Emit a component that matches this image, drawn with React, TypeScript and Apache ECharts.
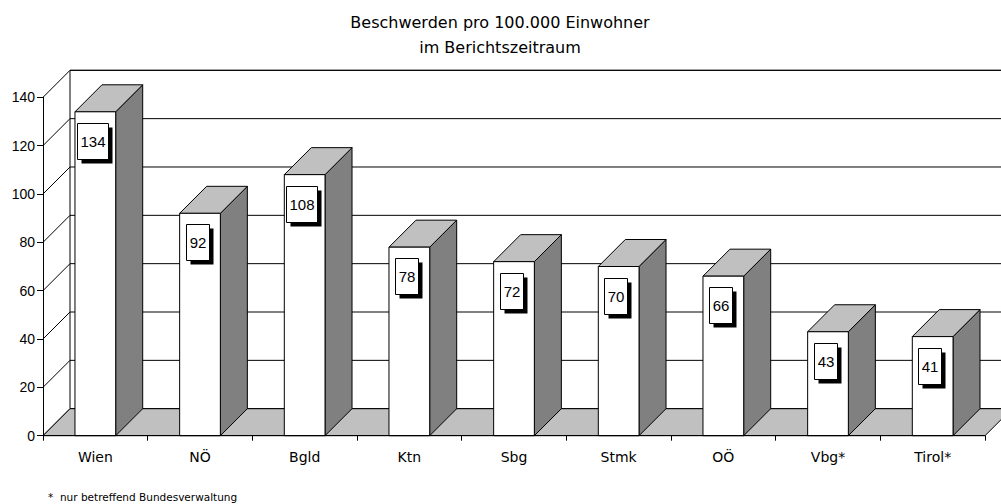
import React, { useEffect, useRef } from "react";
import * as echarts from "echarts";

const categories = ["Wien", "NÖ", "Bgld", "Ktn", "Sbg", "Stmk", "OÖ", "Vbg*", "Tirol*"];
const values = [134, 92, 108, 78, 72, 70, 66, 43, 41];
const yTicks = [0, 20, 40, 60, 80, 100, 120, 140];
const titleLines = ["Beschwerden pro 100.000 Einwohner", "im Berichtszeitraum"];
const footnote = "*  nur betreffend Bundesverwaltung";

const DEPTH = 27;
const WORD_FONT = "'DejaVu Sans', sans-serif";
const NUM_FONT = "'Liberation Sans', Arial, sans-serif";
const LABEL_SIZE = 15;

export default function App() {
  const ref = useRef<HTMLDivElement>(null);

  useEffect(() => {
    if (!ref.current) return;
    const chart = echarts.init(ref.current, undefined, { renderer: "svg" });
    const yMax = yTicks[yTicks.length - 1];

    const frameRender = (params: any, api: any) => {
      const c0 = api.coord([0, 0]);
      const bw = api.size([1, 0])[0];
      const x0 = c0[0] - bw / 2;
      const x1 = x0 + bw * categories.length;
      const yOf = (t: number) => api.coord([0, t])[1];
      const y0 = yOf(0);
      const yT = yOf(yMax);
      const line = { stroke: "#000", lineWidth: 1, fill: null };
      const children: any[] = [];
      children.push({
        type: "rect",
        shape: { x: x0 + DEPTH, y: yT - DEPTH, width: x1 - x0, height: y0 - yT },
        style: { fill: "#fff", stroke: "#000", lineWidth: 1 },
      });
      yTicks.forEach((t) => {
        const y = yOf(t);
        children.push({
          type: "line",
          shape: { x1: x0 + DEPTH, y1: y - DEPTH, x2: x1 + DEPTH, y2: y - DEPTH },
          style: line,
        });
        children.push({
          type: "line",
          shape: { x1: x0, y1: y, x2: x0 + DEPTH, y2: y - DEPTH },
          style: line,
        });
      });
      children.push({
        type: "polygon",
        shape: {
          points: [
            [x0, y0],
            [x1, y0],
            [x1 + DEPTH, y0 - DEPTH],
            [x0 + DEPTH, y0 - DEPTH],
          ],
        },
        style: { fill: "#c0c0c0", stroke: "#000", lineWidth: 1 },
      });
      return { type: "group", children };
    };

    const barRender = (params: any, api: any) => {
      const xi = api.value(0);
      const v = api.value(1);
      const top = api.coord([xi, v]);
      const base = api.coord([xi, 0]);
      const bw = api.size([1, 0])[0];
      const w = bw * 0.389;
      const xl = top[0] - w / 2;
      const xr = top[0] + w / 2;
      const yt = top[1];
      const yb = base[1];
      const edge = { stroke: "#000", lineWidth: 1 };
      const txt = String(v);
      const boxW = Math.round(txt.length * 0.556 * LABEL_SIZE + 6);
      const boxH = 36;
      const lx = top[0] - 3;
      const ly = yt + 29;
      const bx = Math.round(lx - boxW / 2) + 0.5;
      const by = Math.round(ly - boxH / 2) + 0.5;
      return {
        type: "group",
        children: [
          {
            type: "polygon",
            shape: { points: [[xr, yt], [xr + DEPTH, yt - DEPTH], [xr + DEPTH, yb - DEPTH], [xr, yb]] },
            style: { fill: "#808080", ...edge },
          },
          {
            type: "polygon",
            shape: { points: [[xl, yt], [xl + DEPTH, yt - DEPTH], [xr + DEPTH, yt - DEPTH], [xr, yt]] },
            style: { fill: "#c0c0c0", ...edge },
          },
          {
            type: "rect",
            shape: { x: xl, y: yt, width: w, height: yb - yt },
            style: { fill: "#fff", ...edge },
          },
          {
            type: "rect",
            shape: { x: bx + 4, y: by + 4, width: boxW, height: boxH },
            style: { fill: "#000", stroke: null },
          },
          {
            type: "rect",
            shape: { x: bx, y: by, width: boxW, height: boxH },
            style: { fill: "#fff", stroke: "#000", lineWidth: 1 },
          },
          {
            type: "text",
            x: bx + boxW / 2,
            y: by + boxH / 2,
            style: {
              text: txt,
              font: `${LABEL_SIZE}px ${NUM_FONT}`,
              fill: "#000",
              align: "center",
              verticalAlign: "middle",
            },
          },
        ],
      };
    };

    chart.setOption({
      animation: false,
      backgroundColor: "#fff",
      grid: { left: 43, right: 16, top: 97.3, bottom: 68.3, containLabel: false },
      xAxis: {
        type: "category",
        data: categories,
        boundaryGap: true,
        axisLine: { show: true, lineStyle: { color: "#000", width: 1 } },
        axisTick: { show: true, length: 5, lineStyle: { color: "#000" } },
        axisLabel: { margin: 14, fontSize: 14, color: "#000", fontFamily: WORD_FONT },
        splitLine: { show: false },
        z: 5,
      },
      yAxis: {
        type: "value",
        min: 0,
        max: yMax,
        interval: 20,
        axisLine: { show: true, lineStyle: { color: "#000", width: 1 } },
        axisTick: { show: true, length: 6, lineStyle: { color: "#000" } },
        axisLabel: { margin: 8, fontSize: 14, color: "#000", fontFamily: NUM_FONT },
        splitLine: { show: false },
        z: 5,
      },
      graphic: [
        {
          type: "text",
          x: 500,
          y: 22,
          style: { text: titleLines[0], font: `16px ${WORD_FONT}`, fill: "#000", align: "center", verticalAlign: "middle" },
        },
        {
          type: "text",
          x: 500,
          y: 47,
          style: { text: titleLines[1], font: `16px ${WORD_FONT}`, fill: "#000", align: "center", verticalAlign: "middle" },
        },
        {
          type: "text",
          x: 48,
          y: 497,
          style: { text: footnote, font: `10.5px ${WORD_FONT}`, fill: "#000", align: "left", verticalAlign: "middle" },
        },
      ],
      series: [
        {
          type: "custom",
          name: "frame",
          z: 1,
          silent: true,
          data: [[0, 0]],
          encode: { x: 0, y: 1 },
          renderItem: frameRender,
        },
        {
          type: "custom",
          name: "Beschwerden",
          z: 2,
          data: values.map((v, i) => [i, v]),
          encode: { x: 0, y: 1 },
          renderItem: barRender,
        },
      ],
    });

    return () => chart.dispose();
  }, []);

  return (
    <div
      ref={ref}
      style={{ position: "fixed", left: 0, top: 0, width: 1001, height: 504, background: "#fff" }}
    />
  );
}
